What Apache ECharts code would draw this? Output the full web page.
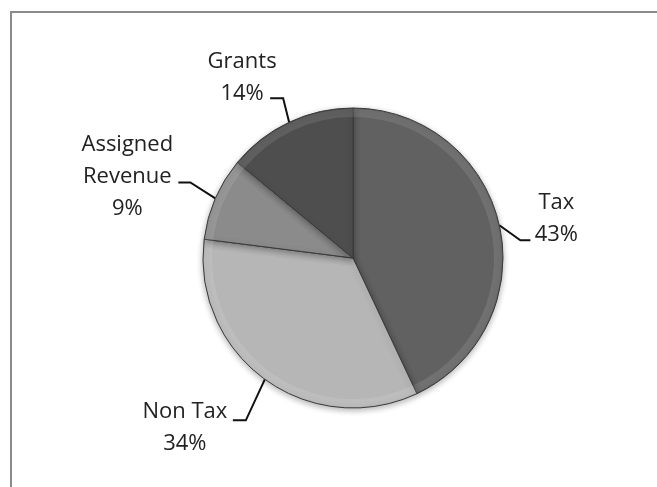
<!DOCTYPE html>
<html>
<head>
<meta charset="utf-8">
<script src="https://cdn.jsdelivr.net/npm/echarts@6/dist/echarts.min.js"></script>
<style>
  html, body { margin: 0; padding: 0; background: #fff; }
  .frame {
    position: absolute;
    left: 10px;
    top: 11px;
    width: 700px;
    height: 520px;
    border: 2px solid #8a8a8a;
    box-sizing: border-box;
  }
  #chart { position: absolute; left: 0; top: 0; width: 657px; height: 487px; }
</style>
</head>
<body>
<div class="frame"></div>
<div id="chart"></div>
<script>
const categories = ["Tax", "Non Tax", "Assigned Revenue", "Grants"];
const labelTexts = ["Tax", "Non Tax", "Assigned\nRevenue", "Grants"];
const shares = [43, 34, 9, 14];
const sliceColors = ["#616161", "#b6b6b6", "#8b8b8b", "#4e4e4e"];

// leader line shape per slice: [bend dx, bend dy, horizontal run, label dx, label dy]
const leaders = [
  [21, 15, 10, 26, -22],
  [-19, 41, -13, -48, 7],
  [-25, -16, -12, -51, -6],
  [-6, -24, -13, -28, -21],
];

const chart = echarts.init(document.getElementById("chart"));

chart.setOption({
  animation: false,
  series: [
    {
      type: "pie",
      center: [353, 258],
      radius: 150,
      startAngle: 90,
      clockwise: true,
      data: categories.map((name, i) => ({
        name,
        value: shares[i],
        itemStyle: { color: sliceColors[i] },
      })),
      itemStyle: {
        borderColor: "#3a3a3a",
        borderWidth: 1,
        shadowColor: "rgba(0,0,0,0.3)",
        shadowBlur: 6,
        shadowOffsetY: 2,
      },
      label: {
        show: true,
        position: "outside",
        formatter: (p) => labelTexts[p.dataIndex] + "\n" + p.value + "%",
        fontFamily: "Open Sans",
        fontSize: 22,
        lineHeight: 32,
        color: "#222",
        align: "center",
      },
      labelLine: {
        show: true,
        length: 20,
        length2: 12,
        lineStyle: { color: "#111", width: 2 },
      },
      labelLayout: (params) => {
        const o = leaders[params.dataIndex];
        const p0 = params.labelLinePoints[0];
        const bend = [p0[0] + o[0], p0[1] + o[1]];
        const end = [bend[0] + o[2], bend[1]];
        return {
          x: end[0] + o[3],
          y: end[1] + o[4],
          align: "center",
          verticalAlign: "middle",
          labelLinePoints: [p0, bend, end],
        };
      },
      emphasis: { disabled: true },
    },
    {
      // bevel rim along the outer edge
      type: "pie",
      silent: true,
      center: [353, 258],
      radius: [141, 149],
      startAngle: 90,
      clockwise: true,
      data: categories.map((name, i) => ({ name, value: shares[i] })),
      itemStyle: { color: "rgba(255,255,255,0.10)", borderWidth: 0 },
      label: { show: false },
      labelLine: { show: false },
      emphasis: { disabled: true },
    },
  ],
});
</script>
</body>
</html>
